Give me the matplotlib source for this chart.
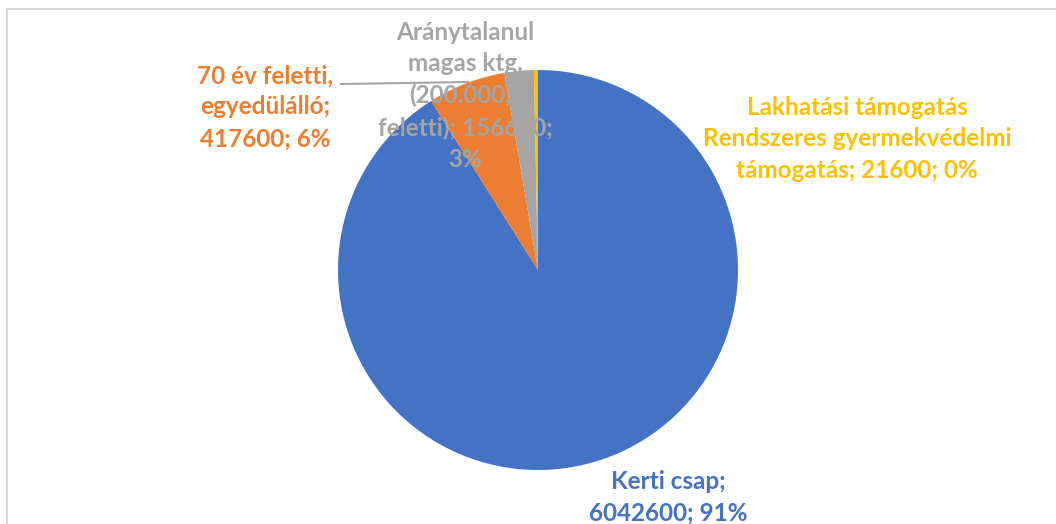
import matplotlib.pyplot as plt
from matplotlib.patches import Rectangle

# data
categories = ["Kerti csap", "70 év feletti,\negyedülálló", "Aránytalanul\nmagas ktg.\n(200.000,-\nfeletti)",
              "Lakhatási támogatás\nRendszeres gyermekvédelmi\ntámogatás"]
values = [6042600, 417600, 156600, 21600]
percents = [91, 6, 3, 0]  # as shown by Excel (adjusted to 100%)
colors = ["#4472C4", "#ED7D31", "#A5A5A5", "#FFC000"]

W, H = 1056, 524
fig = plt.figure(figsize=(W / 100, H / 100), dpi=100)
ax = fig.add_axes([0, 0, 1, 1])

# chart border
ax.add_patch(Rectangle((7, -5), W, H - 9 + 5, fill=False, edgecolor="#D9D9D9", lw=1.5))

cx, cy, r = 538, H - 270, 200
ax.pie(values, colors=colors, startangle=90, counterclock=False,
       center=(cx, cy), radius=r, frame=True)
ax.set_xlim(0, W)
ax.set_ylim(0, H)
ax.set_aspect("equal")
ax.set_axis_off()

# leader line for grey label
ax.plot([341, 468], [H - 84, H - 82], color="#A6A6A6", lw=1.5, zorder=5)

labels = [f"{c}; {v}; {p}%" for c, v, p in zip(categories, values, percents)]
labels[0] = f"{categories[0]};\n{values[0]}; {percents[0]}%"
labels[1] = f"{categories[1]};\n{values[1]}; {percents[1]}%"
labels[2] = f"{categories[2]}; {values[2]};\n{percents[2]}%"

label_pos = [(668, 497), (265, 107), (465, 96), (857, 139)]
font = ["Lato", "DejaVu Sans"]
for txt, (x, y), col in zip(labels, label_pos, colors):
    ax.text(x, H - y, txt, ha="center", va="center", color=col, fontsize=17.5,
            fontweight="bold", family=font, linespacing=1.45, zorder=6)

fig.savefig("out.png", dpi=100)
